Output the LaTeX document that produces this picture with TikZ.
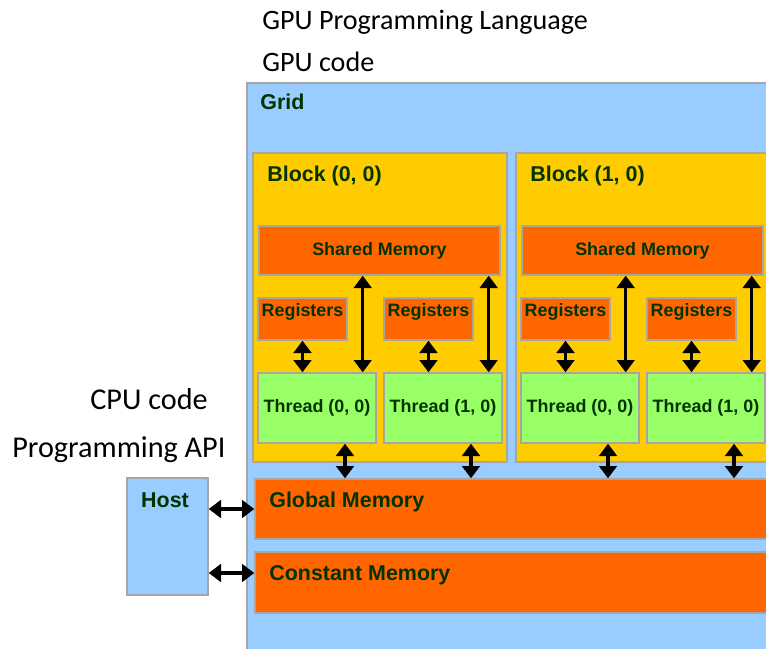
\documentclass[tikz,border=0pt]{standalone}
\usepackage{fontspec}
\setmainfont{Carlito}
\newfontfamily\boxfont{Liberation Sans}
\usepackage{tikz}
\usetikzlibrary{positioning,arrows.meta,fit,calc}
\definecolor{colgrid}{HTML}{99CCFF}
\definecolor{colblk}{HTML}{FFCC00}
\definecolor{colmem}{HTML}{FF6600}
\definecolor{colthr}{HTML}{99FF66}
\definecolor{coltxt}{HTML}{003300}
\definecolor{colrim}{HTML}{A6A6A6}

\begin{document}
\begin{tikzpicture}[x=0.02cm, y=-0.02cm,
    box/.style={draw=colrim, line width=0.8pt, inner sep=0pt, fit={#1}},
    lbl/.style={font=\boxfont\bfseries\fontsize{12.2}{14}\selectfont, text=coltxt, anchor=base west, inner sep=0pt},
    small/.style={font=\boxfont\bfseries\fontsize{10.2}{12}\selectfont, text=coltxt, inner sep=0pt},
    plain/.style={font=\fontsize{16}{19}\selectfont, anchor=base west, inner sep=0pt},
    dbl/.style={{Triangle[width=10pt,length=7pt]}-{Triangle[width=10pt,length=7pt]}, line width=2pt}]
    \useasboundingbox (0,0) rectangle (766,648);
    \clip (0,0) rectangle (766,648);
    % titles
    \node[plain] (gpulang) at (262,30) {GPU Programming Language};
    \node[plain] (gpucode) at (262,72) {GPU code};
    \node[plain, font=\fontsize{17.2}{20}\selectfont] (cpucode) at (90,409) {CPU code};
    \node[plain, font=\fontsize{17.2}{20}\selectfont] (cpuapi) at (12,457) {Programming API};
    % grid and memories
    \node[box={(247,83) (780,660)}, fill=colgrid] (grid) {};
    \node[lbl] (gridlbl) at (260,110) {Grid};
    \node[box={(255,479) (780,539)}, fill=colmem] (glob) {};
    \node[lbl] (globlbl) at (269,507) {Global Memory};
    \node[box={(255,552) (780,613)}, fill=colmem] (cmem) {};
    \node[lbl] (cmemlbl) at (269,580) {Constant Memory};
    % host
    \node[box={(127,478) (208,595)}, fill=colgrid] (host) {};
    \node[lbl, anchor=base] (hostlbl) at (165,507) {Host};
    \draw[dbl] (host.east |- glob.west) -- (glob.west);
    \coordinate (hc) at (0,573);
    \draw[dbl] (host.east |- hc) -- (cmem.west |- hc);
    % blocks
    \foreach \b/\dx in {0/0, 1/263} {
      \node[box={(253+\dx,153) (507+\dx,462)}, fill=colblk] (blk\b) {};
      \node[lbl] (blklbl\b) at (267+\dx,182) {Block (\b, 0)};
      \node[box={(259+\dx,226) (500+\dx,275)}, fill=colmem] (shm\b) {};
      \node[small] (shmlbl\b) at (shm\b.center) {Shared Memory};
      \foreach \t/\tx in {0/0, 1/126} {
        \node[box={(258+\dx+\tx,298) (347+\dx+\tx,340)}, fill=colmem] (reg\b\t) {};
        \node[small, anchor=base] (reglbl\b\t) at ($(reg\b\t.north)+(0,19)$) {Registers};
        \node[box={(258+\dx+\tx,373) (376+\dx+\tx,443)}, fill=colthr] (thr\b\t) {};
        \node[small] (thrlbl\b\t) at (thr\b\t.center) {Thread (\t, 0)};
        \coordinate (up\b\t) at ($(thr\b\t.north east)+(-14,0)$);
        \coordinate (dn\b\t) at ($(thr\b\t.south)+(28,0)$);
        \draw[dbl] (reg\b\t.south) -- (reg\b\t.south |- thr\b\t.north);
        \draw[dbl] (up\b\t) -- (up\b\t |- shm\b.south);
        \draw[dbl] (dn\b\t) -- (dn\b\t |- glob.north);
      }
    }
\end{tikzpicture}
\end{document}
